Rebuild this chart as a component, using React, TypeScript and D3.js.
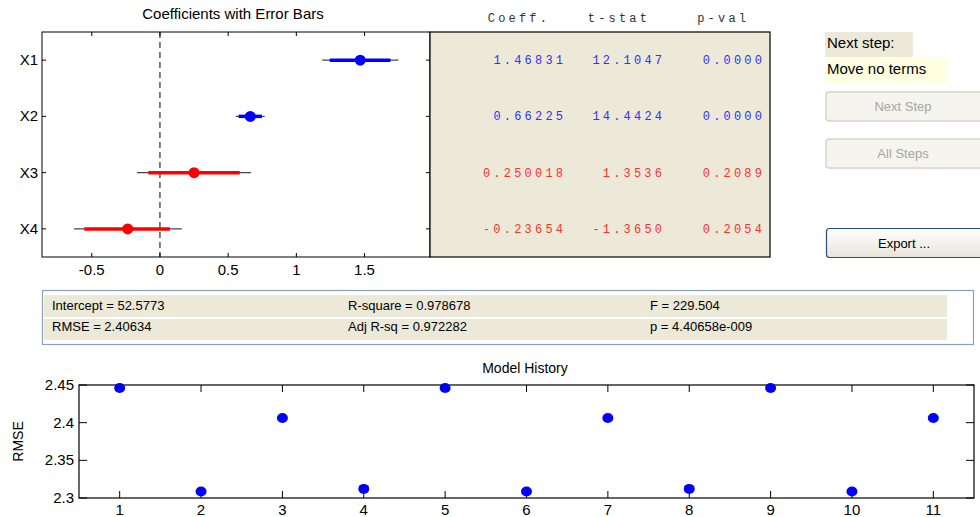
import React from 'react';
import * as d3 from 'd3';

// coefficient table (stepwise fit)
const terms = ['X1', 'X2', 'X3', 'X4'];
const coeffs = [1.46831, 0.66225, 0.250018, -0.23654];
const tStats = [12.1047, 14.4424, 1.3536, -1.365];
const pVals = [0.0, 0.0, 0.2089, 0.2054];
const inModel = [true, true, false, false];
// confidence intervals
const ci90Low = [1.245, 0.577, -0.085, -0.555];
const ci90High = [1.69, 0.748, 0.585, 0.073];
const ci95Low = [1.19, 0.556, -0.168, -0.63];
const ci95High = [1.748, 0.768, 0.668, 0.16];
const coefTicks = [-0.5, 0, 0.5, 1, 1.5];
const tableHeaders = ['Coeff.', 't-stat', 'p-val'];

// summary statistics
const statsRow1 = ['Intercept = 52.5773', 'R-square = 0.978678', 'F = 229.504'];
const statsRow2 = ['RMSE = 2.40634', 'Adj R-sq = 0.972282', 'p = 4.40658e-009'];

// model history
const steps = [1, 2, 3, 4, 5, 6, 7, 8, 9, 10, 11];
const rmseHistory = [2.446, 2.3087, 2.4063, 2.3121, 2.446, 2.3087, 2.4063, 2.3121, 2.446, 2.3087, 2.4063];
const rmseTicks = [2.3, 2.35, 2.4, 2.45];

const W = 980;
const H = 517;
const FONT = '"Liberation Sans", Arial, sans-serif';
const MONO = '"Liberation Mono", "Courier New", monospace';
const PANEL = '#ece9d8';

const fmtG = (v: number) => d3.format('.6')(v).replace('\u2212', '-');
const fmtF = (v: number) => v.toFixed(4);

const App: React.FC = () => {
  // top plot
  const x = d3.scaleLinear().domain([-0.865, 1.98]).range([42, 430]);
  const y = d3.scaleLinear().domain([0.5, 4.5]).range([32, 257]);
  const colorOf = (i: number) => (inModel[i] ? '#0000ff' : '#ff0000');
  const textColorOf = (i: number) => (inModel[i] ? '#3030ff' : '#ff3030');

  // bottom plot
  const hx = d3.scaleLinear().domain([0.5, 11.5]).range([79, 974]);
  const hy = d3.scaleLinear().domain([2.3, 2.45]).range([498, 385]);

  const colRight = [563, 662, 762];
  const LS = 3.2;

  return (
    <svg width={W} height={H} style={{ position: 'absolute', left: 0, top: 0, background: '#fff' }}>
      {/* Coefficients plot */}
      <text x={233} y={19} textAnchor="middle" fontFamily={FONT} fontSize={15}>Coefficients with Error Bars</text>
      <rect x={42} y={32} width={388} height={225} fill="#fff" stroke="#000" strokeWidth={1} />
      {coefTicks.map(t => (
        <g key={t}>
          <line x1={x(t)} x2={x(t)} y1={257} y2={253} stroke="#000" />
          <line x1={x(t)} x2={x(t)} y1={32} y2={36} stroke="#000" />
          <text x={x(t)} y={275} textAnchor="middle" fontFamily={FONT} fontSize={15}>{t}</text>
        </g>
      ))}
      <line x1={x(0)} x2={x(0)} y1={32} y2={257} stroke="#000" strokeDasharray="6,4" />
      {terms.map((term, i) => {
        const cy = y(i + 1);
        return (
          <g key={term}>
            <line x1={42} x2={46} y1={cy} y2={cy} stroke="#000" />
            <line x1={426} x2={430} y1={cy} y2={cy} stroke="#000" />
            <text x={38} y={cy + 5} textAnchor="end" fontFamily={FONT} fontSize={15}>{term}</text>
            <line x1={x(ci95Low[i])} x2={x(ci95High[i])} y1={cy} y2={cy} stroke="#444" strokeWidth={1.2} />
            <line x1={x(ci90Low[i])} x2={x(ci90High[i])} y1={cy} y2={cy} stroke={colorOf(i)} strokeWidth={3.5} />
            <circle cx={x(coeffs[i])} cy={cy} r={5.5} fill={colorOf(i)} />
          </g>
        );
      })}

      {/* coefficient table */}
      <rect x={430} y={32} width={340} height={225} fill={PANEL} stroke="#000" strokeWidth={1.2} />
      {tableHeaders.map((h, j) => (
        <text key={h} x={colRight[j] + LS - (j === 0 ? 16 : j === 1 ? 15 : 16)} y={22} textAnchor="end"
          fontFamily={MONO} fontSize={12} letterSpacing={LS} fill="#333">{h}</text>
      ))}
      {terms.map((term, i) => {
        const cy = y(i + 1) + 4;
        const vals = [fmtG(coeffs[i]), fmtF(tStats[i]), fmtF(pVals[i])];
        return (
          <g key={term}>
            {vals.map((v, j) => (
              <text key={j} x={colRight[j] + LS} y={cy} textAnchor="end" fontFamily={MONO} fontSize={12}
                letterSpacing={LS} fill={textColorOf(i)}>{v}</text>
            ))}
          </g>
        );
      })}

      {/* next step controls */}
      <rect x={825} y={32} width={88} height={25} fill={PANEL} />
      <text x={827} y={48} fontFamily={FONT} fontSize={15}>Next step:</text>
      <rect x={825} y={57} width={123} height={26} fill="#ffffe1" />
      <text x={827} y={74} fontFamily={FONT} fontSize={15}>Move no terms</text>
      {[{ label: 'Next Step', top: 92 }, { label: 'All Steps', top: 139 }].map(b => (
        <g key={b.label}>
          <rect x={826} y={b.top} width={165} height={29} rx={3} fill="#f5f4ee" stroke="#d8d4c6" strokeWidth={1.5} />
          <text x={903} y={b.top + 19} textAnchor="middle" fontFamily={FONT} fontSize={13} fill="#a7a6a0">{b.label}</text>
        </g>
      ))}
      <defs>
        <linearGradient id="btn" x1="0" x2="0" y1="0" y2="1">
          <stop offset="0" stopColor="#ffffff" />
          <stop offset="1" stopColor="#e6e4da" />
        </linearGradient>
      </defs>
      <rect x={826.5} y={228.5} width={165} height={29} rx={3} fill="url(#btn)" stroke="#2a4f7f" strokeWidth={1.2} />
      <text x={904} y={248} textAnchor="middle" fontFamily={FONT} fontSize={13} fill="#000">Export ...</text>

      {/* summary statistics */}
      <rect x={42.5} y={290.5} width={931} height={54} fill="#fff" stroke="#8aa0bd" strokeWidth={1.2} />
      <rect x={44} y={295} width={903} height={22} fill={PANEL} />
      <rect x={44} y={319} width={903} height={21} fill={PANEL} />
      {[statsRow1, statsRow2].map((row, r) =>
        row.map((s, c) => (
          <text key={`${r}-${c}`} x={[52, 348, 650][c]} y={r === 0 ? 310 : 331} fontFamily={FONT} fontSize={13} fill="#000">{s}</text>
        ))
      )}

      {/* Model History */}
      <text x={525} y={373} textAnchor="middle" fontFamily={FONT} fontSize={14}>Model History</text>
      <rect x={79} y={385} width={895} height={113} fill="#fff" stroke="#000" strokeWidth={1.2} />
      {steps.map(s => (
        <g key={s}>
          <line x1={hx(s)} x2={hx(s)} y1={498} y2={491} stroke="#000" />
          <line x1={hx(s)} x2={hx(s)} y1={385} y2={392} stroke="#000" />
          <text x={hx(s)} y={515} textAnchor="middle" fontFamily={FONT} fontSize={15}>{s}</text>
        </g>
      ))}
      {rmseTicks.map(t => (
        <g key={t}>
          <line x1={79} x2={87} y1={hy(t)} y2={hy(t)} stroke="#000" />
          <line x1={966} x2={974} y1={hy(t)} y2={hy(t)} stroke="#000" />
          <text x={74} y={hy(t) + 5} textAnchor="end" fontFamily={FONT} fontSize={15}>{t}</text>
        </g>
      ))}
      <text transform={`translate(23, ${hy(2.375)}) rotate(-90)`} textAnchor="middle" fontFamily={FONT} fontSize={14}>RMSE</text>
      {steps.map((s, i) => (
        <ellipse key={s} cx={hx(s)} cy={hy(rmseHistory[i])} rx={5.5} ry={5} fill="#0000ff" />
      ))}
    </svg>
  );
};

export default App;
